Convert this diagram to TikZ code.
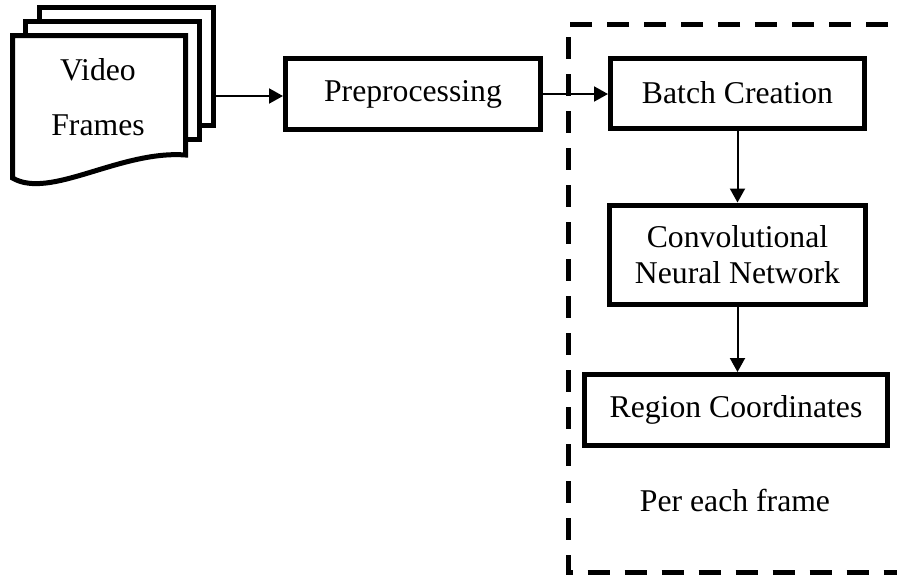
\documentclass[tikz,border=0pt]{standalone}
\usepackage{fontspec}
\setmainfont{Liberation Serif}
\usetikzlibrary{positioning,calc,arrows.meta}

\begin{document}
\begin{tikzpicture}[x=1pt,y=-1pt,
    blockbox/.style={draw,line width=5pt,fill=white,inner sep=0pt,align=center,font=\fontsize{31.7}{36}\selectfont},
    flowarrow/.style={-{Triangle[length=14pt,width=15pt]},line width=2pt}]
        \useasboundingbox (0,0) rectangle (897,579);
        \clip (0,0) rectangle (897,579);

        % Per-frame region
        \draw[line width=5pt,dash pattern=on 22pt off 15pt,dash phase=15pt] (910,24) -- (568,24) -- (568,572.5) -- (910,572.5);
        \node[font=\fontsize{31.7}{36}\selectfont] (perframe) at (735,500) {Per each frame};

        % Video frames (stacked sheets)
        \draw[line width=5pt,fill=white] (39.5,7) rectangle (213.5,125);
        \draw[line width=5pt,fill=white] (25.5,21.5) rectangle (199.5,139.5);
        \draw[line width=5pt,fill=white] (12.5,178) -- (12.5,35.5) -- (185.5,35.5) -- (185.5,155)
            .. controls (120,150) and (50,200) .. (12.5,178) -- cycle;
        \node[align=center,font=\fontsize{31.7}{55}\selectfont] (frames) at (98,97) {Video\\Frames};
        \coordinate (stackout) at (213.5,96);

        % Blocks
        \node[blockbox,minimum width=255pt,minimum height=71.5pt] (prep) at (413,94) {Preprocessing};
        \node[blockbox,minimum width=254pt,minimum height=70pt] (batch) at (737.5,93) {Batch Creation};
        \node[blockbox,minimum width=256pt,minimum height=99pt] (cnn) at (737.5,254.5) {Convolutional\\Neural Network};
        \node[blockbox,minimum width=303.5pt,minimum height=71pt] (region) at (736,410) {Region Coordinates};

        % Arrows
        \draw[flowarrow] (stackout) -- (stackout -| prep.west);
        \draw[flowarrow] (prep.east) -- (prep.east -| batch.west);
        \draw[flowarrow] (batch) -- (cnn);
        \draw[flowarrow] (cnn.south) -- (cnn.south |- region.north);
    \end{tikzpicture}
\end{document}
